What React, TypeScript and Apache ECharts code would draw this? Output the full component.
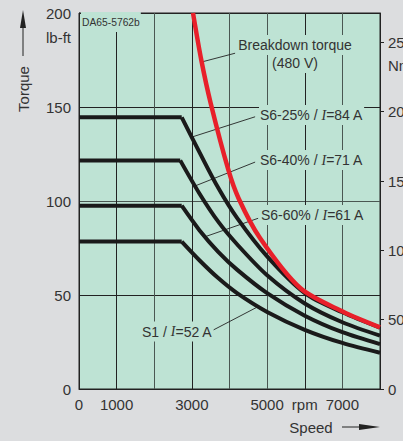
import React, { useEffect, useRef } from 'react';
import * as echarts from 'echarts';

// ---- data ----
const xTickLabels = ['0', '1000', '', '3000', '', '5000', 'rpm', '7000', ''];
const rightTicks = [0, 50, 100, 150, 200, 250];

const s1Speed = [0, 2730, 3200, 3700, 4200, 5000, 6000, 7000, 8000];
const s1Torque = [78.4, 78.4, 68.5, 59, 51, 41, 31.5, 24.5, 19.3];

const s660Speed = [0, 2730, 3200, 3700, 4200, 5000, 6000, 7000, 8000];
const s660Torque = [97.5, 97.5, 84.5, 73, 63.5, 51, 39, 30.2, 23.9];

const s640Speed = [0, 2690, 3200, 3700, 4200, 5000, 6000, 7000, 8000];
const s640Torque = [121.6, 121.6, 104, 89, 77, 60.5, 45.5, 35.5, 28.4];

const s625Speed = [0, 2730, 3200, 3700, 4200, 5000, 6000, 7000, 8000];
const s625Torque = [144.5, 144.5, 126, 107, 91, 70.5, 51, 40.8, 32.6];

const bdSpeed = [3030, 3250, 3500, 3970, 4240, 4810, 5880, 7020, 8000];
const bdTorque = [200, 175, 152, 116.5, 101.5, 80.3, 53.7, 41.1, 32.8];

// leader lines (annotation anchors, data space): [curve point, label point]
const leaderBreakdown = [[3270, 174], [4149, 178.6]];
const leader25 = [[2997, 134], [4681, 144.8]];
const leader40 = [[3085, 108], [4681, 120.7]];
const leader60 = [[3351, 81], [4761, 90.8]];
const leader1 = [[4769, 43.9], [3572, 31.4]];

const NM_PER_LBFT = 1.35582;

const PAGE_BG = '#dcdddf';
const PLOT_BG = '#bee3d4';
const TEXT = '#333333';
const FONT = 'Liberation Sans';

function zip(xs: number[], ys: number[]) {
  return xs.map((x, i) => [x, ys[i]]);
}

function curveSeries(speed: number[], torque: number[], color: string, width: number, z: number) {
  const pts = zip(speed, torque);
  const flat = pts.slice(0, 2);
  const fall = pts.slice(1);
  const base = {
    type: 'line' as const,
    symbol: 'none',
    silent: true,
    z,
    lineStyle: { color, width, cap: 'butt', join: 'round' },
  };
  return [
    { ...base, data: flat, smooth: false },
    { ...base, data: fall, smooth: 0.3 },
  ];
}

function leaderSeries(pts: number[][]) {
  return {
    type: 'line' as const,
    symbol: 'none',
    silent: true,
    z: 1,
    data: pts,
    lineStyle: { color: '#222', width: 0.9 },
  };
}

function labelText(text: string, x: number, y: number, align: string = 'left') {
  return {
    type: 'text',
    x,
    y,
    z: 50,
    style: {
      text,
      fontSize: 14,
      fontFamily: FONT,
      fill: TEXT,
      align,
      verticalAlign: 'middle',
      backgroundColor: PLOT_BG,
      padding: [3, 1, 3, 1],
      rich: {
        i: { fontFamily: 'Liberation Serif', fontStyle: 'italic', fontSize: 14, fill: TEXT },
      },
    },
  };
}

export default function App() {
  const ref = useRef<HTMLDivElement>(null);

  useEffect(() => {
    if (!ref.current) return;
    const chart = echarts.init(ref.current, undefined, { renderer: 'svg' });

    const splitX = ['#222', '#222', '#4a5752', '#222', '#4a5752', '#4a5752', '#222', '#4a5752', '#222'];
    const splitY = ['#222', '#222', '#4a5752', '#222', '#222'];

    const option: any = {
      animation: false,
      backgroundColor: PAGE_BG,
      grid: {
        left: 79,
        top: 13,
        width: 301,
        height: 376,
        containLabel: false,
        outerBoundsMode: 'none',
        show: true,
        backgroundColor: PLOT_BG,
        borderColor: '#222',
        borderWidth: 1,
      },
      xAxis: {
        type: 'value',
        min: 0,
        max: 8000,
        interval: 1000,
        axisLine: { show: true, lineStyle: { color: '#222', width: 1 } },
        axisTick: { show: false },
        axisLabel: {
          formatter: (v: number) => xTickLabels[Math.round(v / 1000)] ?? '',
          fontSize: 15,
          fontFamily: FONT,
          color: TEXT,
          margin: 8,
        },
        splitLine: { show: true, lineStyle: { color: splitX, width: 1 } },
      },
      yAxis: [
        {
          type: 'value',
          position: 'left',
          min: 0,
          max: 200,
          interval: 50,
          axisLine: { show: true, lineStyle: { color: '#222', width: 1 } },
          axisTick: { show: false },
          axisLabel: { fontSize: 15, fontFamily: FONT, color: TEXT, margin: 8 },
          splitLine: { show: true, lineStyle: { color: splitY, width: 1 } },
        },
        {
          type: 'value',
          position: 'right',
          min: 0,
          max: 200 * NM_PER_LBFT,
          interval: 50,
          axisLine: { show: true, lineStyle: { color: '#222', width: 1 } },
          axisTick: { show: true, length: 4, lineStyle: { color: '#222' }, customValues: rightTicks },
          axisLabel: {
            formatter: (v: number) => (Math.abs(v % 50) < 1e-6 ? String(v) : ''),
            fontSize: 15,
            fontFamily: FONT,
            color: TEXT,
            align: 'left',
            margin: 8,
          },
          splitLine: { show: false },
        },
      ],
      series: [
        leaderSeries(leaderBreakdown),
        leaderSeries(leader25),
        leaderSeries(leader40),
        leaderSeries(leader60),
        leaderSeries(leader1),
        ...curveSeries(s1Speed, s1Torque, '#1a1a1a', 4, 5),
        ...curveSeries(s660Speed, s660Torque, '#1a1a1a', 4, 5),
        ...curveSeries(s640Speed, s640Torque, '#1a1a1a', 4, 5),
        ...curveSeries(s625Speed, s625Torque, '#1a1a1a', 4, 5),
        {
          type: 'line',
          symbol: 'none',
          silent: true,
          z: 8,
          data: zip(bdSpeed, bdTorque),
          smooth: 0.3,
          lineStyle: { color: '#e8202a', width: 4.5 },
        },
      ],
      graphic: [
        // unit labels
        { type: 'text', x: 71, y: 37, style: { text: 'lb-ft', fontSize: 15, fontFamily: FONT, fill: TEXT, align: 'right', verticalAlign: 'middle' } },
        { type: 'text', x: 388, y: 65, style: { text: 'Nm', fontSize: 15, fontFamily: FONT, fill: TEXT, align: 'left', verticalAlign: 'middle' } },
        // Torque axis title and arrow
        { type: 'text', x: 23, y: 89, rotation: Math.PI / 2, style: { text: 'Torque', fontSize: 15, fontFamily: FONT, fill: TEXT, align: 'center', verticalAlign: 'middle' } },
        { type: 'line', shape: { x1: 23, y1: 56, x2: 23, y2: 26 }, style: { stroke: '#222', lineWidth: 1 } },
        { type: 'polygon', shape: { points: [[23, 10], [20, 28], [26, 28]] }, style: { fill: '#222' } },
        // Speed axis title and arrow
        { type: 'text', x: 311, y: 427, style: { text: 'Speed', fontSize: 15, fontFamily: FONT, fill: TEXT, align: 'center', verticalAlign: 'middle' } },
        { type: 'line', shape: { x1: 342, y1: 427, x2: 362, y2: 427 }, style: { stroke: '#222', lineWidth: 1 } },
        { type: 'polygon', shape: { points: [[380, 427], [359, 424], [359, 430]] }, style: { fill: '#222' } },
        // in-plot labels
        {
          type: 'text', x: 81, y: 22, z: 50,
          style: { text: 'DA65-5762b', fontSize: 10.3, fontFamily: FONT, fill: TEXT, align: 'left', verticalAlign: 'middle', backgroundColor: PLOT_BG, padding: [5, 1, 5, 1] },
        },
        labelText('Breakdown torque', 295, 45, 'center'),
        labelText('(480 V)', 295, 63, 'center'),
        labelText('S6-25% / {i|I}=84 A', 259, 115),
        labelText('S6-40% / {i|I}=71 A', 259, 160),
        labelText('S6-60% / {i|I}=61 A', 260, 215),
        labelText('S1 / {i|I}=52 A', 141, 331.5),
      ],
    };

    chart.setOption(option);
    return () => chart.dispose();
  }, []);

  return (
    <div
      ref={ref}
      style={{ position: 'fixed', left: 0, top: 0, width: 403, height: 441 }}
    />
  );
}
